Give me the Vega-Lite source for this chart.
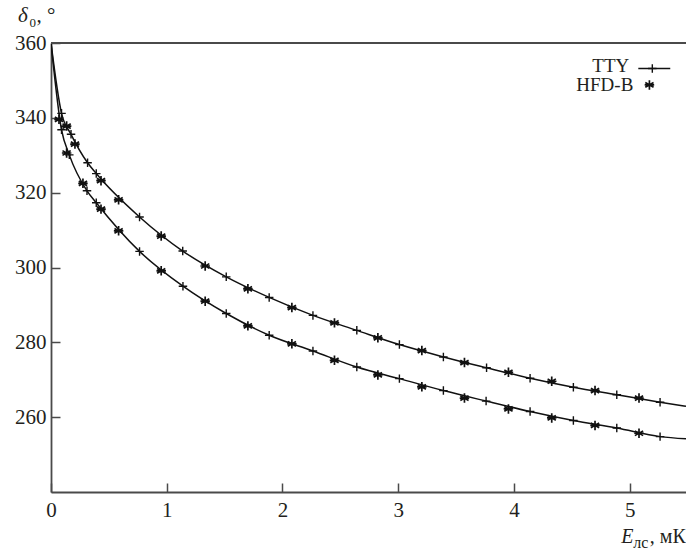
{
  "$schema": "https://vega.github.io/schema/vega-lite/v6.json",
  "width": 635,
  "height": 449,
  "autosize": {"type": "none"},
  "padding": {"left": 51, "top": 43, "right": 0, "bottom": 58},
  "background": "white",
  "config": {
    "view": {"stroke": null},
    "font": "Liberation Serif",
    "text": {"font": "Liberation Serif"},
    "axis": {
      "labelFont": "Liberation Serif",
      "labelFontSize": 21,
      "labelColor": "#231f20",
      "domainColor": "#4a4a4a",
      "domainWidth": 1.8,
      "tickColor": "#4a4a4a",
      "tickWidth": 1.5,
      "grid": false
    }
  },
  "datasets": {
    "curves": [
      {"curve": "upper", "method": "TTY", "node": false, "E": 0, "delta": 360},
      {"curve": "upper", "method": "TTY", "node": true, "E": 0.091, "delta": 341.2},
      {"curve": "upper", "method": "TTY", "node": true, "E": 0.173, "delta": 335.6},
      {"curve": "upper", "method": "TTY", "node": true, "E": 0.316, "delta": 328.0},
      {"curve": "upper", "method": "TTY", "node": true, "E": 0.391, "delta": 325.1},
      {"curve": "upper", "method": "TTY", "node": true, "E": 0.765, "delta": 313.5},
      {"curve": "upper", "method": "TTY", "node": true, "E": 1.138, "delta": 304.4},
      {"curve": "upper", "method": "TTY", "node": true, "E": 1.514, "delta": 297.5},
      {"curve": "upper", "method": "TTY", "node": true, "E": 1.885, "delta": 292.0},
      {"curve": "upper", "method": "TTY", "node": true, "E": 2.263, "delta": 287.2},
      {"curve": "upper", "method": "TTY", "node": true, "E": 2.642, "delta": 283.2},
      {"curve": "upper", "method": "TTY", "node": true, "E": 3.010, "delta": 279.4},
      {"curve": "upper", "method": "TTY", "node": true, "E": 3.390, "delta": 276.1},
      {"curve": "upper", "method": "TTY", "node": true, "E": 3.763, "delta": 273.2},
      {"curve": "upper", "method": "TTY", "node": true, "E": 4.139, "delta": 270.4},
      {"curve": "upper", "method": "TTY", "node": true, "E": 4.513, "delta": 268.0},
      {"curve": "upper", "method": "TTY", "node": true, "E": 4.888, "delta": 266.0},
      {"curve": "upper", "method": "TTY", "node": true, "E": 5.262, "delta": 264.0},
      {"curve": "upper", "method": "TTY", "node": false, "E": 5.486, "delta": 262.9},

      {"curve": "lower", "method": "TTY", "node": false, "E": 0, "delta": 360},
      {"curve": "lower", "method": "TTY", "node": true, "E": 0.091, "delta": 336.8},
      {"curve": "lower", "method": "TTY", "node": true, "E": 0.158, "delta": 330.1},
      {"curve": "lower", "method": "TTY", "node": true, "E": 0.311, "delta": 320.5},
      {"curve": "lower", "method": "TTY", "node": true, "E": 0.391, "delta": 317.3},
      {"curve": "lower", "method": "TTY", "node": true, "E": 0.765, "delta": 304.3},
      {"curve": "lower", "method": "TTY", "node": true, "E": 1.140, "delta": 295.0},
      {"curve": "lower", "method": "TTY", "node": true, "E": 1.514, "delta": 287.7},
      {"curve": "lower", "method": "TTY", "node": true, "E": 1.885, "delta": 281.9},
      {"curve": "lower", "method": "TTY", "node": true, "E": 2.263, "delta": 277.7},
      {"curve": "lower", "method": "TTY", "node": true, "E": 2.642, "delta": 273.4},
      {"curve": "lower", "method": "TTY", "node": true, "E": 3.010, "delta": 270.3},
      {"curve": "lower", "method": "TTY", "node": true, "E": 3.390, "delta": 267.1},
      {"curve": "lower", "method": "TTY", "node": true, "E": 3.759, "delta": 264.3},
      {"curve": "lower", "method": "TTY", "node": true, "E": 4.139, "delta": 261.5},
      {"curve": "lower", "method": "TTY", "node": true, "E": 4.513, "delta": 259.1},
      {"curve": "lower", "method": "TTY", "node": true, "E": 4.888, "delta": 257.1},
      {"curve": "lower", "method": "TTY", "node": true, "E": 5.262, "delta": 254.8},
      {"curve": "lower", "method": "TTY", "node": false, "E": 5.486, "delta": 254.2},

      {"curve": "upper", "method": "HFD-B", "node": true, "E": 0.135, "delta": 337.8},
      {"curve": "upper", "method": "HFD-B", "node": true, "E": 0.207, "delta": 333.0},
      {"curve": "upper", "method": "HFD-B", "node": true, "E": 0.432, "delta": 323.2},
      {"curve": "upper", "method": "HFD-B", "node": true, "E": 0.584, "delta": 318.1},
      {"curve": "upper", "method": "HFD-B", "node": true, "E": 0.952, "delta": 308.4},
      {"curve": "upper", "method": "HFD-B", "node": true, "E": 1.332, "delta": 300.4},
      {"curve": "upper", "method": "HFD-B", "node": true, "E": 1.701, "delta": 294.3},
      {"curve": "upper", "method": "HFD-B", "node": true, "E": 2.081, "delta": 289.3},
      {"curve": "upper", "method": "HFD-B", "node": true, "E": 2.449, "delta": 285.2},
      {"curve": "upper", "method": "HFD-B", "node": true, "E": 2.824, "delta": 281.2},
      {"curve": "upper", "method": "HFD-B", "node": true, "E": 3.204, "delta": 277.8},
      {"curve": "upper", "method": "HFD-B", "node": true, "E": 3.572, "delta": 274.6},
      {"curve": "upper", "method": "HFD-B", "node": true, "E": 3.952, "delta": 272.0},
      {"curve": "upper", "method": "HFD-B", "node": true, "E": 4.326, "delta": 269.6},
      {"curve": "upper", "method": "HFD-B", "node": true, "E": 4.700, "delta": 267.1},
      {"curve": "upper", "method": "HFD-B", "node": true, "E": 5.080, "delta": 265.1},

      {"curve": "lower", "method": "HFD-B", "node": true, "E": 0.069, "delta": 339.6},
      {"curve": "lower", "method": "HFD-B", "node": true, "E": 0.135, "delta": 330.6},
      {"curve": "lower", "method": "HFD-B", "node": true, "E": 0.276, "delta": 322.5},
      {"curve": "lower", "method": "HFD-B", "node": true, "E": 0.432, "delta": 315.6},
      {"curve": "lower", "method": "HFD-B", "node": true, "E": 0.584, "delta": 309.8},
      {"curve": "lower", "method": "HFD-B", "node": true, "E": 0.952, "delta": 299.1},
      {"curve": "lower", "method": "HFD-B", "node": true, "E": 1.332, "delta": 291.0},
      {"curve": "lower", "method": "HFD-B", "node": true, "E": 1.701, "delta": 284.4},
      {"curve": "lower", "method": "HFD-B", "node": true, "E": 2.081, "delta": 279.6},
      {"curve": "lower", "method": "HFD-B", "node": true, "E": 2.449, "delta": 275.2},
      {"curve": "lower", "method": "HFD-B", "node": true, "E": 2.824, "delta": 271.3},
      {"curve": "lower", "method": "HFD-B", "node": true, "E": 3.204, "delta": 268.1},
      {"curve": "lower", "method": "HFD-B", "node": true, "E": 3.572, "delta": 265.1},
      {"curve": "lower", "method": "HFD-B", "node": true, "E": 3.952, "delta": 262.2},
      {"curve": "lower", "method": "HFD-B", "node": true, "E": 4.326, "delta": 259.8},
      {"curve": "lower", "method": "HFD-B", "node": true, "E": 4.700, "delta": 257.8},
      {"curve": "lower", "method": "HFD-B", "node": true, "E": 5.080, "delta": 255.7}
    ],
    "notes": [
      {"text": "TTY"}
    ]
  },
  "layer": [
    {
      "data": {"name": "curves"},
      "transform": [{"filter": "datum.method === 'TTY'"}],
      "mark": {"type": "line", "color": "#111", "strokeWidth": 1.5, "interpolate": "monotone", "clip": true},
      "encoding": {
        "x": {
          "field": "E",
          "type": "quantitative",
          "scale": {"domain": [0, 5.486], "nice": false, "zero": false},
          "axis": {
            "orient": "bottom",
            "title": null,
            "values": [0, 1, 2, 3, 4, 5],
            "format": "d",
            "tickSize": -9,
            "labelPadding": 16,
            "labelFlush": false
          }
        },
        "y": {
          "field": "delta",
          "type": "quantitative",
          "scale": {"domain": [240, 360], "nice": false, "zero": false},
          "axis": {
            "title": null,
            "values": [260, 280, 300, 320, 340, 360],
            "format": "d",
            "tickSize": -9,
            "labelPadding": 14,
            "labelBaseline": "middle"
          }
        },
        "detail": {"field": "curve"},
        "order": {"field": "E", "type": "quantitative"}
      }
    },
    {
      "data": {"name": "curves"},
      "transform": [{"filter": "datum.method === 'TTY' && datum.node"}],
      "mark": {"type": "point", "shape": "M-1,0L1,0M0,-1L0,1", "filled": false, "stroke": "#111", "strokeWidth": 1.4, "size": 72, "opacity": 1},
      "encoding": {
        "x": {"field": "E", "type": "quantitative"},
        "y": {"field": "delta", "type": "quantitative"}
      }
    },
    {
      "data": {"name": "curves"},
      "transform": [{"filter": "datum.method === 'HFD-B'"}],
      "mark": {"type": "point", "shape": "M0,-1L0,1M-0.87,-0.5L0.87,0.5M-0.87,0.5L0.87,-0.5M-1,0L1,0", "filled": false, "stroke": "#111", "strokeWidth": 1.7, "size": 90, "opacity": 1},
      "encoding": {
        "x": {"field": "E", "type": "quantitative"},
        "y": {"field": "delta", "type": "quantitative"}
      }
    },
    {
      "data": {"name": "notes"},
      "mark": {"type": "rule", "stroke": "#4a4a4a", "strokeWidth": 1.8},
      "encoding": {
        "x": {"datum": 0},
        "x2": {"datum": 5.486},
        "y": {"datum": 360}
      }
    },
    {
      "data": {"name": "notes"},
      "mark": {"type": "text", "align": "right", "baseline": "alphabetic", "fontSize": 19, "fill": "#231f20", "text": "TTY"},
      "encoding": {
        "x": {"datum": 4.996},
        "y": {"datum": 352.3}
      }
    },
    {
      "data": {"name": "notes"},
      "mark": {"type": "text", "align": "right", "baseline": "alphabetic", "fontSize": 19, "fill": "#231f20", "text": "HFD-B"},
      "encoding": {
        "x": {"datum": 5.031},
        "y": {"datum": 347.2}
      }
    },
    {
      "data": {"name": "notes"},
      "mark": {"type": "rule", "stroke": "#111", "strokeWidth": 1.4},
      "encoding": {
        "x": {"datum": 5.074},
        "x2": {"datum": 5.35},
        "y": {"datum": 353.2}
      }
    },
    {
      "data": {"name": "notes"},
      "mark": {"type": "point", "shape": "M-1,0L1,0M0,-1L0,1", "filled": false, "stroke": "#111", "strokeWidth": 1.4, "size": 72, "opacity": 1},
      "encoding": {
        "x": {"datum": 5.195},
        "y": {"datum": 353.2}
      }
    },
    {
      "data": {"name": "notes"},
      "mark": {"type": "point", "shape": "M0,-1L0,1M-0.87,-0.5L0.87,0.5M-0.87,0.5L0.87,-0.5M-1,0L1,0", "filled": false, "stroke": "#111", "strokeWidth": 1.7, "size": 90, "opacity": 1},
      "encoding": {
        "x": {"datum": 5.17},
        "y": {"datum": 348.8}
      }
    },
    {
      "data": {"name": "notes"},
      "mark": {"type": "text", "align": "left", "baseline": "alphabetic", "fontSize": 21, "fontStyle": "italic", "fill": "#231f20", "dx": -33, "dy": -21.5, "text": "δ"},
      "encoding": {
        "x": {"datum": 0},
        "y": {"datum": 360}
      }
    },
    {
      "data": {"name": "notes"},
      "mark": {"type": "text", "align": "left", "baseline": "alphabetic", "fontSize": 13, "fill": "#231f20", "dx": -21.5, "dy": -16, "text": "0"},
      "encoding": {
        "x": {"datum": 0},
        "y": {"datum": 360}
      }
    },
    {
      "data": {"name": "notes"},
      "mark": {"type": "text", "align": "left", "baseline": "alphabetic", "fontSize": 21, "fill": "#231f20", "dx": -14.5, "dy": -21.5, "text": ", °"},
      "encoding": {
        "x": {"datum": 0},
        "y": {"datum": 360}
      }
    },
    {
      "data": {"name": "notes"},
      "mark": {"type": "text", "align": "left", "baseline": "alphabetic", "fontSize": 20, "fontStyle": "italic", "fill": "#231f20", "dx": -8.5, "dy": 51, "text": "E"},
      "encoding": {
        "x": {"datum": 5},
        "y": {"datum": 240}
      }
    },
    {
      "data": {"name": "notes"},
      "mark": {"type": "text", "align": "left", "baseline": "alphabetic", "fontSize": 16, "fill": "#231f20", "dx": 3.5, "dy": 55.5, "text": "лс"},
      "encoding": {
        "x": {"datum": 5},
        "y": {"datum": 240}
      }
    },
    {
      "data": {"name": "notes"},
      "mark": {"type": "text", "align": "left", "baseline": "alphabetic", "fontSize": 20, "fill": "#231f20", "dx": 20, "dy": 51, "text": ", мК"},
      "encoding": {
        "x": {"datum": 5},
        "y": {"datum": 240}
      }
    }
  ]
}
